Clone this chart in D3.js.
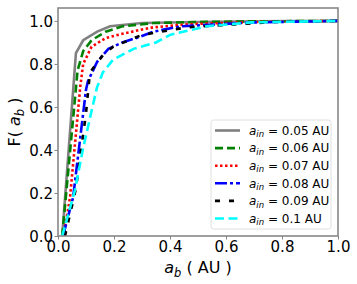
<!DOCTYPE html>
<html>
<head>
<meta charset="utf-8">
<script src="https://cdn.jsdelivr.net/npm/d3@7/dist/d3.min.js"></script>
<style>
  body { margin: 0; background: #fff; }
  text { font-family: "DejaVu Sans", sans-serif; }
</style>
</head>
<body>
<div id="chart"></div>
<script>
// cumulative distributions
var ain_labels = ["0.05", "0.06", "0.07", "0.08", "0.09", "0.1"];

var ab_005 = [0.015, 0.064, 0.09, 0.14, 0.186, 0.3, 0.5, 0.7, 1.0];
var F_005  = [0.0, 0.85, 0.91, 0.95, 0.975, 0.99, 0.995, 0.998, 1.0];

var ab_006 = [0.015, 0.07, 0.09, 0.12, 0.17, 0.23, 0.34, 0.5, 0.7, 1.0];
var F_006  = [0.0, 0.77, 0.86, 0.91, 0.95, 0.975, 0.99, 0.995, 0.998, 1.0];

var ab_007 = [0.02, 0.043, 0.08, 0.09, 0.12, 0.17, 0.23, 0.3, 0.34, 0.47, 0.7, 1.0];
var F_007  = [0.0, 0.18, 0.7, 0.8, 0.88, 0.92, 0.94, 0.96, 0.97, 0.985, 0.995, 1.0];

var ab_008 = [0.018, 0.054, 0.1, 0.107, 0.14, 0.18, 0.23, 0.29, 0.34, 0.44, 0.7, 1.0];
var F_008  = [0.0, 0.18, 0.68, 0.72, 0.81, 0.87, 0.9, 0.925, 0.95, 0.975, 0.993, 1.0];

var ab_009 = [0.025, 0.064, 0.1, 0.114, 0.16, 0.197, 0.3, 0.46, 0.77, 1.0];
var F_009  = [0.0, 0.22, 0.57, 0.76, 0.84, 0.88, 0.935, 0.97, 0.995, 1.0];

var ab_010 = [0.015, 0.06, 0.09, 0.139, 0.16, 0.197, 0.27, 0.35, 0.4, 0.53, 0.69, 1.0];
var F_010  = [0.0, 0.21, 0.41, 0.69, 0.76, 0.82, 0.87, 0.9, 0.935, 0.975, 0.993, 1.0];

var xTicks = [0.0, 0.2, 0.4, 0.6, 0.8, 1.0];
var yTicks = [0.0, 0.2, 0.4, 0.6, 0.8, 1.0];

var svgWidth = 357;
var svgHeight = 284;
var margin = {top: 8, right: 19, bottom: 48, left: 58};
var chartWidth = svgWidth - margin.left - margin.right;
var chartHeight = svgHeight - margin.top - margin.bottom;

var svg = d3.select("#chart").append("svg")
  .attr("width", svgWidth)
  .attr("height", svgHeight);

var chartGroup = svg.append("g")
  .attr("transform", `translate(${margin.left}, ${margin.top})`);

var xScale = d3.scaleLinear().domain([0, 1.0]).range([0, chartWidth]);
var yScale = d3.scaleLinear().domain([0, 1.06]).range([chartHeight, 0]);

var series = [
  {label: ain_labels[0], x: ab_005, y: F_005, color: "#808080", dash: null},
  {label: ain_labels[1], x: ab_006, y: F_006, color: "#008000", dash: "8,4"},
  {label: ain_labels[2], x: ab_007, y: F_007, color: "#ff0000", dash: "2.5,2.5"},
  {label: ain_labels[3], x: ab_008, y: F_008, color: "#0000ff", dash: "12,3,3,3"},
  {label: ain_labels[4], x: ab_009, y: F_009, color: "#000000", dash: "5,9"},
  {label: ain_labels[5], x: ab_010, y: F_010, color: "#00ffff", dash: "9,4.5"}
];

var line = d3.line()
  .x(d => xScale(d[0]))
  .y(d => yScale(d[1]));

chartGroup.append("defs").append("clipPath").attr("id", "clip")
  .append("rect").attr("width", chartWidth).attr("height", chartHeight);

chartGroup.append("g").attr("clip-path", "url(#clip)")
  .selectAll("path")
  .data(series)
  .enter()
  .append("path")
  .attr("d", s => line(d3.zip(s.x, s.y)))
  .attr("fill", "none")
  .attr("stroke", s => s.color)
  .attr("stroke-width", 2.6)
  .attr("stroke-dasharray", s => s.dash);

// axes
var bottomAxis = d3.axisBottom(xScale).tickValues(xTicks).tickFormat(d3.format(".1f")).tickSize(3.5).tickSizeOuter(0);
var leftAxis = d3.axisLeft(yScale).tickValues(yTicks).tickFormat(d3.format(".1f")).tickSize(3.5).tickSizeOuter(0);

var gx = chartGroup.append("g")
  .attr("transform", `translate(0, ${chartHeight})`)
  .call(bottomAxis);
var gy = chartGroup.append("g").call(leftAxis);

[gx, gy].forEach(function(g) {
  g.select(".domain").remove();
  g.selectAll("line").attr("stroke", "#777").attr("stroke-width", 0.9);
  g.selectAll("text").attr("fill", "#000").style("font-size", "15px").style("font-family", "DejaVu Sans");
});
gx.selectAll("text").attr("dy", "0.9em").attr("y", 2.5);
gy.selectAll("text").attr("x", -5).attr("dy", "0.35em");

// frame
chartGroup.append("rect")
  .attr("width", chartWidth)
  .attr("height", chartHeight)
  .attr("fill", "none")
  .attr("stroke", "#888")
  .attr("stroke-width", 1.6);

// axis labels
var xl = svg.append("text")
  .attr("x", margin.left + chartWidth / 2)
  .attr("y", 273)
  .attr("text-anchor", "middle")
  .style("font-size", "16px");
xl.append("tspan").style("font-style", "italic").text("a");
xl.append("tspan").attr("dy", 3.5).style("font-size", "11.5px").style("font-style", "italic").text("b");
xl.append("tspan").attr("dy", -3.5).text(" ( AU )");

var yl = svg.append("text")
  .attr("transform", `translate(20, ${margin.top + chartHeight / 2}) rotate(-90)`)
  .attr("text-anchor", "middle")
  .style("font-size", "16px");
yl.append("tspan").text("F( ");
yl.append("tspan").style("font-style", "italic").text("a");
yl.append("tspan").attr("dy", 3.5).style("font-size", "11.5px").style("font-style", "italic").text("b");
yl.append("tspan").attr("dy", -3.5).text(" )");

// legend
var legend = svg.append("g").attr("transform", "translate(211, 120)");
legend.append("rect")
  .attr("width", 120).attr("height", 109)
  .attr("rx", 2.5)
  .attr("fill", "#fff").attr("fill-opacity", 0.8)
  .attr("stroke", "#ddd").attr("stroke-width", 0.9);

var items = legend.selectAll(".item")
  .data(series)
  .enter()
  .append("g")
  .attr("class", "item")
  .attr("transform", (d, i) => `translate(0, ${10.5 + i * 17.6})`);

items.append("line")
  .attr("x1", 4).attr("x2", 29)
  .attr("stroke", d => d.color)
  .attr("stroke-width", 2.6)
  .attr("stroke-dasharray", d => d.dash);

var lt = items.append("text")
  .attr("x", 38).attr("dy", "0.35em")
  .style("font-size", "12px");
lt.append("tspan").style("font-style", "italic").text("a");
lt.append("tspan").attr("dy", 2.5).style("font-size", "8.5px").style("font-style", "italic").text("in");
lt.append("tspan").attr("dy", -2.5).text(d => " = " + d.label + " AU");
</script>
</body>
</html>
